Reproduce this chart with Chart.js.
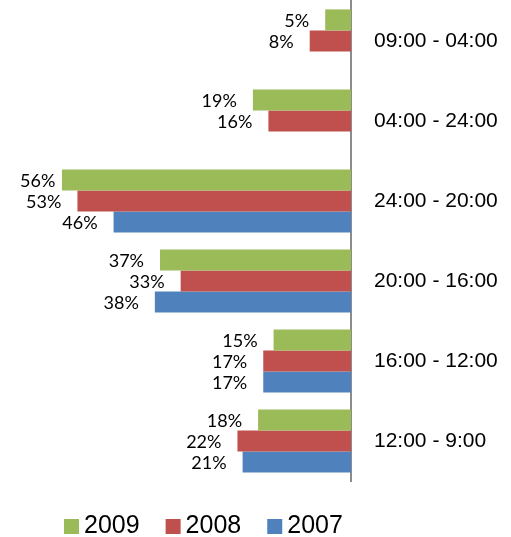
<!DOCTYPE html>
<html>
<head>
<meta charset="utf-8">
<script src="https://cdn.jsdelivr.net/npm/chart.js@4"></script>
<style>
  html, body { margin: 0; padding: 0; background: #fff; }
  #wrap { width: 511px; height: 537px; }
</style>
</head>
<body>
<div id="wrap"><canvas id="grafico" width="511" height="537"></canvas></div>
<script>
// datos
const franjas = ["09:00 - 04:00", "04:00 - 24:00", "24:00 - 20:00", "20:00 - 16:00", "16:00 - 12:00", "12:00 - 9:00"];
const anios = ["2009", "2008", "2007"];
const valores2009 = [5, 19, 56, 37, 15, 18];
const valores2008 = [8, 16, 53, 33, 17, 22];
const valores2007 = [null, null, 46, 38, 17, 21];
const colores = ["#9BBB59", "#C0504D", "#4F81BD"];

// etiquetas de porcentaje a la izquierda de cada barra
const etiquetasPlugin = {
  id: "etiquetas",
  afterDatasetsDraw(chart) {
    const ctx = chart.ctx;
    ctx.save();
    ctx.font = "18px Lato, 'Liberation Sans', sans-serif";
    ctx.fillStyle = "#000";
    ctx.textAlign = "right";
    ctx.textBaseline = "middle";
    chart.data.datasets.forEach((ds, i) => {
      const meta = chart.getDatasetMeta(i);
      meta.data.forEach((bar, j) => {
        const v = ds.data[j];
        if (v === null || v === undefined) return;
        const txt = v + "%";
        const w = ctx.measureText(txt).width;
        const x = Math.max(bar.x - 16, 20 + w);
        ctx.fillText(txt, x, bar.y + 1);
      });
    });
    ctx.restore();
  }
};

// leyenda dibujada abajo
const leyendaPlugin = {
  id: "leyenda",
  afterDraw(chart) {
    const ctx = chart.ctx;
    ctx.save();
    ctx.font = "25px 'Liberation Sans', Arial, sans-serif";
    ctx.textBaseline = "alphabetic";
    ctx.textAlign = "left";
    let x = 64;
    chart.data.datasets.forEach(ds => {
      ctx.fillStyle = ds.backgroundColor;
      ctx.fillRect(x, 519, 15, 15);
      ctx.fillStyle = "#000";
      ctx.fillText(ds.label, x + 20, 533);
      x += 20 + ctx.measureText(ds.label).width + 26;
    });
    ctx.restore();
  }
};

new Chart(document.getElementById("grafico"), {
  type: "bar",
  data: {
    labels: franjas,
    datasets: [
      { label: anios[0], data: valores2009, backgroundColor: colores[0] },
      { label: anios[1], data: valores2008, backgroundColor: colores[1] },
      { label: anios[2], data: valores2007, backgroundColor: colores[2] }
    ]
  },
  options: {
    indexAxis: "y",
    responsive: false,
    animation: false,
    datasets: {
      bar: { categoryPercentage: 0.79, barPercentage: 1.0, borderWidth: 0 }
    },
    layout: { padding: { top: 1, bottom: 56, left: 0, right: 0 } },
    scales: {
      x: {
        display: false,
        reverse: true,
        min: 0,
        max: 68
      },
      y: {
        position: "right",
        grid: { display: false, drawTicks: false, tickLength: 0 },
        border: { display: true, color: "#8c8c8c", width: 2 },
        ticks: {
          color: "#000",
          padding: 23,
          crossAlign: "near",
          font: { family: "'Liberation Sans', Arial, sans-serif", size: 21 }
        },
        afterFit(scale) {
          scale.width = 160;
          scale.paddingTop = 0;
          scale.paddingBottom = 0;
        }
      }
    },
    plugins: {
      legend: { display: false },
      tooltip: { enabled: false }
    }
  },
  plugins: [etiquetasPlugin, leyendaPlugin]
});
</script>
</body>
</html>
